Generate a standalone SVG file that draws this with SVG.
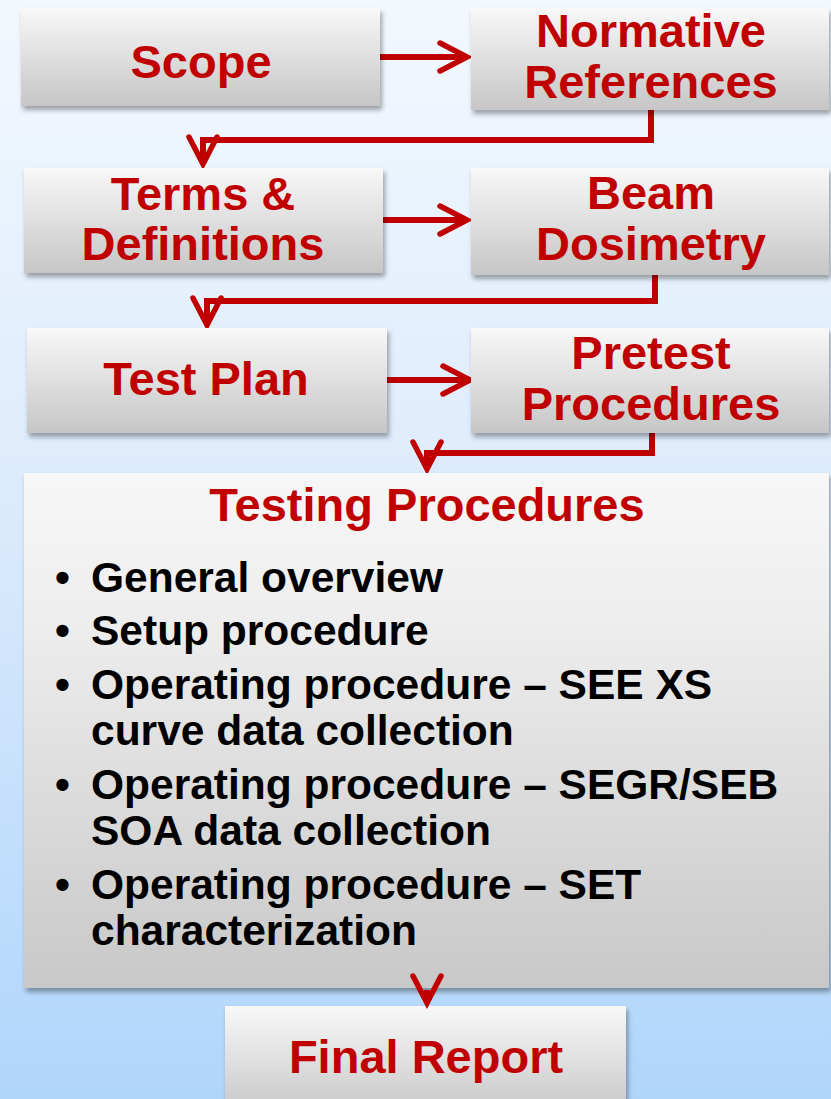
<svg xmlns="http://www.w3.org/2000/svg" width="831" height="1099" viewBox="0 0 831 1099">
  <defs>
    <linearGradient id="bg" x1="0" y1="0" x2="0" y2="1">
      <stop offset="0" stop-color="#f3f8fe"/>
      <stop offset="0.45" stop-color="#dcebfc"/>
      <stop offset="1" stop-color="#b0d5fb"/>
    </linearGradient>
    <linearGradient id="boxFill" x1="0" y1="0" x2="0" y2="1">
      <stop offset="0" stop-color="#f8f8f8"/>
      <stop offset="1" stop-color="#c6c6c6"/>
    </linearGradient>
    <linearGradient id="bigFill" x1="0" y1="0" x2="0" y2="1">
      <stop offset="0" stop-color="#f7f7f7"/>
      <stop offset="0.3" stop-color="#ededed"/>
      <stop offset="1" stop-color="#c8c8c8"/>
    </linearGradient>
    <filter id="shadow" x="-5%" y="-5%" width="112%" height="115%">
      <feDropShadow dx="2" dy="4" stdDeviation="2.5" flood-color="#000" flood-opacity="0.35"/>
    </filter>
    <marker id="head" markerUnits="userSpaceOnUse" markerWidth="40" markerHeight="40" viewBox="-34 -20 40 40" refX="0" refY="0" orient="auto">
      <path d="M -27 -14 L 0 0 L -27 14" fill="none" stroke="#c00000" stroke-width="5.5" stroke-linecap="round" stroke-linejoin="miter"/>
    </marker>
    <style>
      .box { fill: url(#boxFill); filter: url(#shadow); }
      .big { fill: url(#bigFill); filter: url(#shadow); }
      .title { font-family: "Liberation Sans", Arial, sans-serif; font-weight: bold; font-size: 47px; fill: #c00000; text-anchor: middle; }
      .item { font-family: "Liberation Sans", Arial, sans-serif; font-weight: bold; font-size: 42.5px; fill: #000; }
      .link { fill: none; stroke: #c00000; stroke-width: 6; marker-end: url(#head); }
    </style>
  </defs>

  <rect x="0" y="0" width="831" height="1099" fill="url(#bg)"/>

  <!-- flow connectors -->
  <g id="connectors">
    <path class="link" d="M 380 57 L 467 57"/>
    <path class="link" d="M 651 110 L 651 140 L 203 140 L 203 164"/>
    <path class="link" d="M 383 220 L 467 220"/>
    <path class="link" d="M 655 275 L 655 301 L 207 301 L 207 325"/>
    <path class="link" d="M 387 380 L 470 380"/>
    <path class="link" d="M 652 433 L 652 453 L 427 453 L 427 469"/>
  </g>

  <g id="scope">
    <rect class="box" x="21" y="8" width="359" height="98"/>
    <text class="title" x="201" y="78">Scope</text>
  </g>

  <g id="normative-references">
    <rect class="box" x="471" y="8" width="358" height="102"/>
    <text class="title" x="651" y="47">Normative</text>
    <text class="title" x="651" y="98">References</text>
  </g>

  <g id="terms-definitions">
    <rect class="box" x="24" y="168" width="359" height="105"/>
    <text class="title" x="203" y="210">Terms &amp;</text>
    <text class="title" x="203" y="260">Definitions</text>
  </g>

  <g id="beam-dosimetry">
    <rect class="box" x="471" y="168" width="358" height="107"/>
    <text class="title" x="651" y="209">Beam</text>
    <text class="title" x="651" y="260">Dosimetry</text>
  </g>

  <g id="test-plan">
    <rect class="box" x="27" y="328" width="360" height="105"/>
    <text class="title" x="206" y="395">Test Plan</text>
  </g>

  <g id="pretest-procedures">
    <rect class="box" x="471" y="328" width="358" height="105"/>
    <text class="title" x="651" y="369">Pretest</text>
    <text class="title" x="651" y="420">Procedures</text>
  </g>

  <g id="testing-procedures">
    <rect class="big" x="24" y="473" width="805" height="515"/>
    <text class="title" x="427" y="521">Testing Procedures</text>
    <g class="item">
      <text x="55" y="592">•</text>
      <text x="91" y="592">General overview</text>
      <text x="55" y="645">•</text>
      <text x="91" y="645">Setup procedure</text>
      <text x="55" y="699">•</text>
      <text x="91" y="699">Operating procedure – SEE XS</text>
      <text x="91" y="745">curve data collection</text>
      <text x="55" y="799">•</text>
      <text x="91" y="799">Operating procedure – SEGR/SEB</text>
      <text x="91" y="845">SOA data collection</text>
      <text x="55" y="899">•</text>
      <text x="91" y="899">Operating procedure – SET</text>
      <text x="91" y="945">characterization</text>
    </g>
  </g>

  <g id="final-report">
    <rect class="box" x="225" y="1006" width="401" height="110"/>
    <text class="title" x="426" y="1073">Final Report</text>
  </g>

  <!-- last arrow sits over the large box edge -->
  <g id="connectors-top">
    <path class="link" d="M 427 990 L 427 1003"/>
  </g>
</svg>
